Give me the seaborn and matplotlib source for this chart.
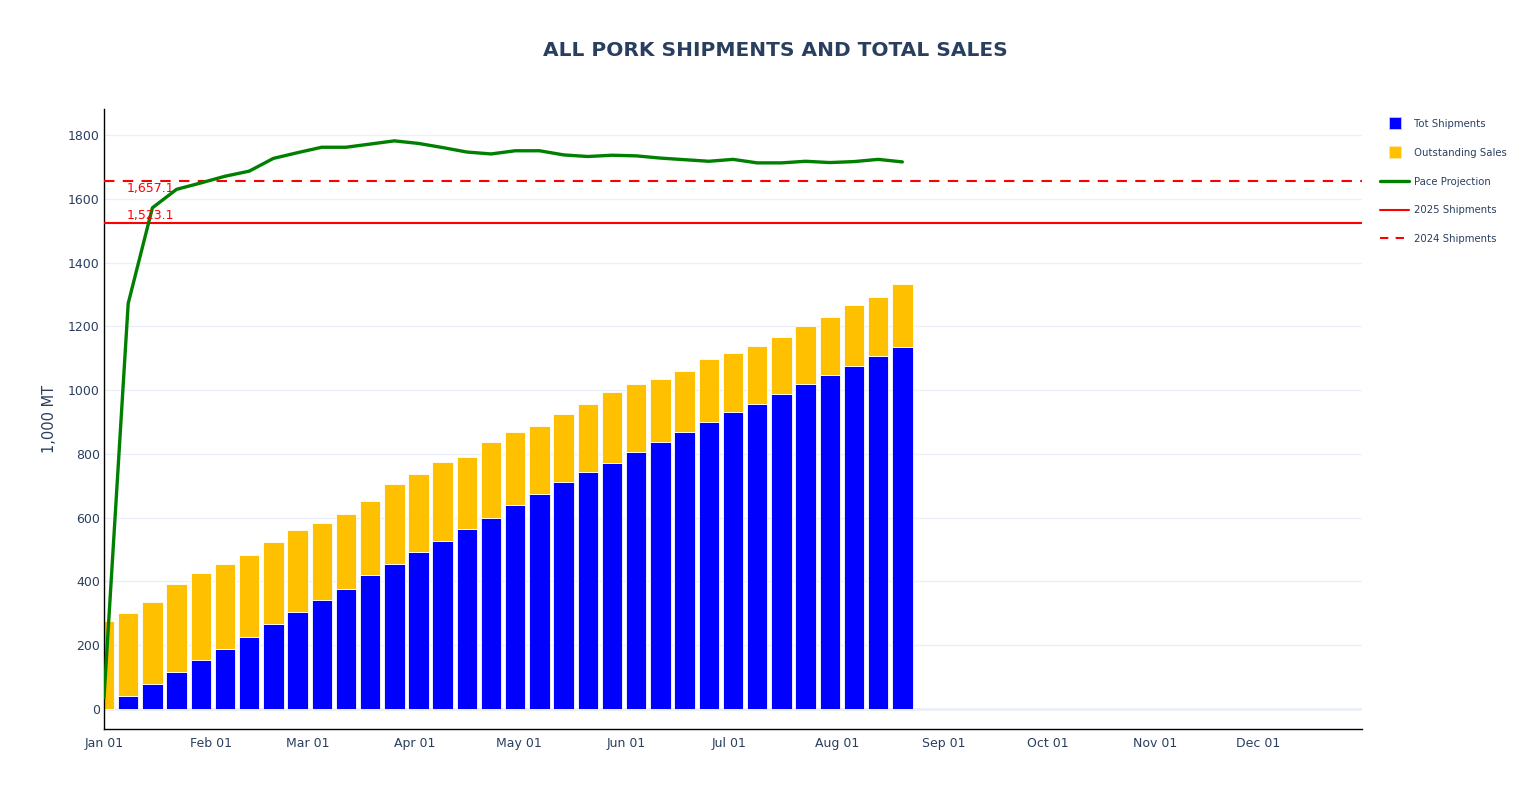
import numpy as np
import pandas as pd

import seaborn as sns
import matplotlib.pyplot as plt
import matplotlib.dates as mdates
from matplotlib.lines import Line2D


# weekly data, 1,000 MT
weeks = pd.date_range("2025-01-01", periods=34, freq="7D")

tot_shipments = [
    0, 40, 79, 115, 153, 189, 225, 266, 303, 343, 377, 419,
    456, 493, 528, 565, 600, 641, 675, 711, 744, 773, 807, 838,
    870, 901, 932, 957, 987, 1020, 1048, 1077, 1106, 1136
]

outstanding_sales = [
    275, 261, 255, 276, 272, 266, 257, 258, 257, 240, 234, 233,
    250, 244, 246, 225, 237, 227, 214, 213, 212, 221, 211, 197,
    190, 196, 184, 180, 179, 181, 181, 189, 186, 196
]

pace_projection = [
    35, 1272, 1572, 1630, 1650, 1671, 1687, 1727, 1745, 1762, 1762, 1772,
    1782, 1774, 1761, 1747, 1741, 1751, 1751, 1738, 1733, 1737, 1735, 1728,
    1723, 1718, 1724, 1713, 1713, 1718, 1714, 1717, 1724, 1716
]

ship_2025 = 1523.1
ship_2024 = 1657.1

df = pd.DataFrame({
    "week": weeks,
    "shipments": tot_shipments,
    "outstanding": outstanding_sales,
    "pace": pace_projection,
})

sns.set_theme(style="white")
plt.rcParams["font.family"] = ["DejaVu Sans"]

text_color = "#2a3f5f"
grid_color = "#EBF0F8"

fig = plt.figure(figsize=(15.29, 7.87), dpi=100)
ax = fig.add_axes([104 / 1529, 1 - 729 / 787, (1362 - 104) / 1529, (729 - 109) / 787])

ax.set_axisbelow(True)
ax.grid(axis="y", color=grid_color, linewidth=1)
ax.grid(axis="x", visible=False)
ax.axhline(0, color=grid_color, linewidth=2, zorder=0.5)

ax.bar(
    df["week"], df["shipments"],
    width=5.9, color="#0000ff",
    edgecolor="white", linewidth=0.6, zorder=2
)
ax.bar(
    df["week"], df["outstanding"],
    bottom=df["shipments"], width=5.9, color="#FFC000",
    edgecolor="white", linewidth=0.6, zorder=2
)

sns.lineplot(
    data=df, x="week", y="pace",
    color="green", linewidth=2.4, ax=ax, zorder=4
)

ax.axhline(ship_2025, color="red", linewidth=1.5, zorder=3)
ax.axhline(ship_2024, color="red", linewidth=1.5, linestyle=(0, (5, 4)), zorder=3)

lbl_x = pd.Timestamp("2025-01-07 12:00")
ax.text(lbl_x, ship_2024 - 5, f"{ship_2024:,.1f}", color="red",
        fontsize=9, va="top", ha="left", zorder=5)
ax.text(lbl_x, ship_2025 + 5, f"{ship_2025:,.1f}", color="red",
        fontsize=9, va="bottom", ha="left", zorder=5)

ax.set_xlim(pd.Timestamp("2025-01-01"), pd.Timestamp("2025-12-31"))
ax.set_ylim(-63, 1882)
ax.set_yticks(np.arange(0, 1801, 200))
ax.xaxis.set_major_locator(mdates.MonthLocator())
ax.xaxis.set_major_formatter(mdates.DateFormatter("%b %d"))

ax.tick_params(axis="both", length=0, labelsize=9, labelcolor=text_color)
ax.tick_params(axis="x", pad=6)
ax.tick_params(axis="y", pad=3)

ax.set_xlabel("")
ax.set_ylabel("1,000 MT", fontsize=10.5, color=text_color, labelpad=8)

for side in ["top", "right"]:
    ax.spines[side].set_visible(False)
for side in ["left", "bottom"]:
    ax.spines[side].set_color("black")
    ax.spines[side].set_linewidth(1)

fig.suptitle(
    "ALL PORK SHIPMENTS AND TOTAL SALES",
    x=775 / 1529, y=1 - 51 / 787, va="center",
    fontsize=14.5, fontweight="bold", color=text_color
)

handles = [
    Line2D([], [], linestyle="none", marker="s", markersize=8,
           markerfacecolor="#0000ff", markeredgecolor="#c8c8ff", markeredgewidth=0.6),
    Line2D([], [], linestyle="none", marker="s", markersize=8,
           markerfacecolor="#FFC000", markeredgecolor="#ffe8a0", markeredgewidth=0.6),
    Line2D([], [], color="green", linewidth=2.4),
    Line2D([], [], color="red", linewidth=1.5),
    Line2D([], [], color="red", linewidth=1.5, linestyle=(0, (4, 3.5))),
]
labels = ["Tot Shipments", "Outstanding Sales", "Pace Projection",
          "2025 Shipments", "2024 Shipments"]

leg = fig.legend(
    handles, labels,
    loc="upper left", bbox_to_anchor=(1380 / 1529, 1 - 119 / 787),
    frameon=False, fontsize=7.3, handlelength=2.9, handletextpad=0.45,
    labelspacing=1.85, borderaxespad=0, borderpad=0
)
for t in leg.get_texts():
    t.set_color(text_color)

plt.savefig("out.png", dpi=100)
plt.close()
